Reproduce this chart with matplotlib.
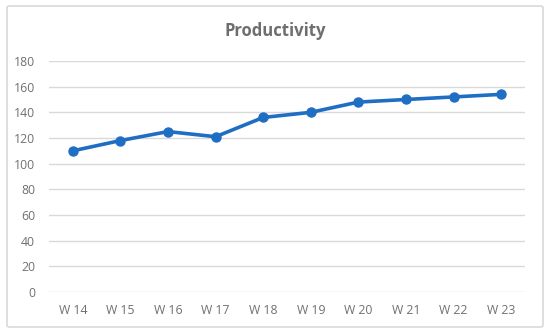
import matplotlib
matplotlib.use("Agg")
import matplotlib.pyplot as plt
from matplotlib.patches import FancyBboxPatch

weeks = ["W 14", "W 15", "W 16", "W 17", "W 18", "W 19", "W 20", "W 21", "W 22", "W 23"]
productivity = [110, 118, 125, 121, 136, 140, 148, 150, 152, 154]
yticks = [0, 20, 40, 60, 80, 100, 120, 140, 160, 180]

plt.rcParams['font.family'] = ['Open Sans', 'DejaVu Sans']

fig = plt.figure(figsize=(5.5, 3.33), dpi=100)
fig.patch.set_facecolor('white')
border = FancyBboxPatch((7/550, 6/333), 536/550, 321/333,
                        boxstyle="round,pad=0,rounding_size=0.005",
                        transform=fig.transFigure, fill=False,
                        edgecolor='#D9D9D9', linewidth=1.2)
fig.patches.append(border)

ax = fig.add_axes([49/550, 1 - 292/333, 476/550, 231/333])
x = list(range(len(weeks)))
ax.plot(x, productivity, color='#1F6EC4', linewidth=2.6, marker='o', markersize=6.5, zorder=3)

ax.set_xlim(-0.5, len(weeks) - 0.5)
ax.set_ylim(0, 180)
ax.set_yticks(yticks)
ax.set_xticks(x)
ax.set_xticklabels(weeks)
ax.yaxis.grid(True, color='#D9D9D9', linewidth=1)
ax.set_axisbelow(True)
for s in ax.spines.values():
    s.set_visible(False)
ax.tick_params(axis='both', length=0, colors='#707070', labelsize=8.8)
ax.tick_params(axis='x', pad=9)
ax.tick_params(axis='y', pad=10)

fig.text(0.5, 1 - 31/333, "Productivity", ha='center', va='center',
         fontsize=12, fontweight='bold', color='#6E6E6E')

fig.savefig("out.png", dpi=100)
